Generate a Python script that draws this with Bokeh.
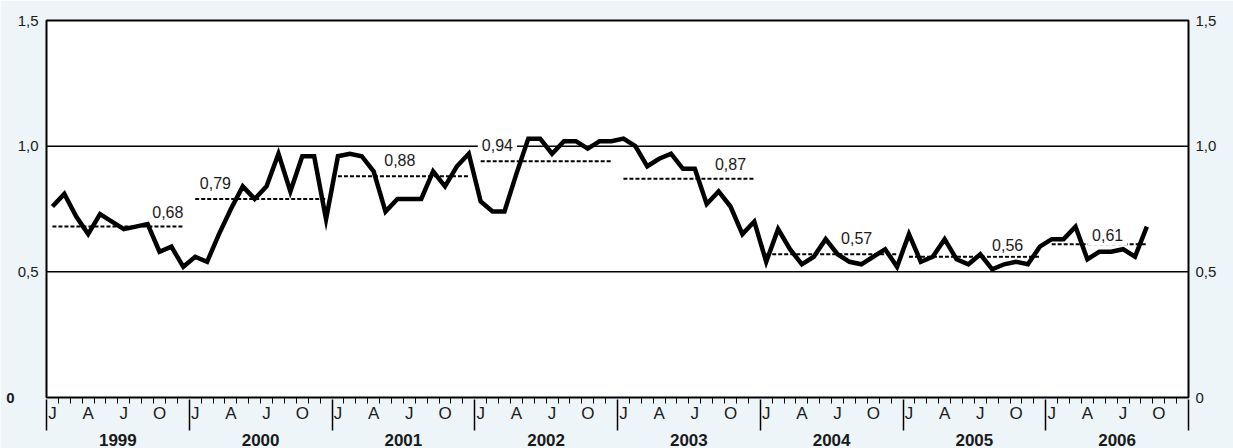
from bokeh.plotting import figure
from bokeh.models import FixedTicker, LinearAxis, Range1d, Label, ColumnDataSource
from bokeh.embed import file_html
from bokeh.resources import INLINE

# ---------------- data ----------------
years = ["1999", "2000", "2001", "2002", "2003", "2004", "2005", "2006"]
v1999 = [0.76, 0.81, 0.72, 0.65, 0.73, 0.70, 0.67, 0.68, 0.69, 0.58, 0.60, 0.52]
v2000 = [0.56, 0.54, 0.65, 0.75, 0.84, 0.79, 0.84, 0.97, 0.82, 0.96, 0.96, 0.71]
v2001 = [0.96, 0.97, 0.96, 0.90, 0.74, 0.79, 0.79, 0.79, 0.90, 0.84, 0.92, 0.97]
v2002 = [0.78, 0.74, 0.74, 0.89, 1.03, 1.03, 0.97, 1.02, 1.02, 0.99, 1.02, 1.02]
v2003 = [1.03, 1.00, 0.92, 0.95, 0.97, 0.91, 0.91, 0.77, 0.82, 0.76, 0.65, 0.70]
v2004 = [0.54, 0.67, 0.59, 0.53, 0.56, 0.63, 0.57, 0.54, 0.53, 0.56, 0.59, 0.52]
v2005 = [0.65, 0.54, 0.56, 0.63, 0.55, 0.53, 0.57, 0.51, 0.53, 0.54, 0.53, 0.60]
v2006 = [0.63, 0.63, 0.68, 0.55, 0.58, 0.58, 0.59, 0.56, 0.68]
yearly_values = [v1999, v2000, v2001, v2002, v2003, v2004, v2005, v2006]

annual_avg = [0.68, 0.79, 0.88, 0.94, 0.87, 0.57, 0.56, 0.61]
annual_avg_labels = ["0,68", "0,79", "0,88", "0,94", "0,87", "0,57", "0,56", "0,61"]

month_letters = ["J", "A", "J", "O"]
y_ticks = [0, 0.5, 1.0, 1.5]
y_tick_labels = ["0", "0,5", "1,0", "1,5"]

# label placement (layout only): month position within year, lift above line
label_month_pos = [9.7, 1.7, 5.2, 1.4, 9.0, 7.6, 8.3, 4.7]
label_lift = [0.060, 0.062, 0.064, 0.064, 0.060, 0.064, 0.045, 0.035]

# ---------------- build ----------------
BG = "#edf5f9"
FONT = "Liberation Sans"
TXT = "#1a1a1a"
n_years = len(years)
n_months = 12 * n_years

xs, ys = [], []
for yi, vals in enumerate(yearly_values):
    for mi, v in enumerate(vals):
        xs.append(yi * 12 + mi + 0.5)
        ys.append(v)
src = ColumnDataSource(dict(x=xs, y=ys))

p = figure(width=1233, height=448, output_backend="svg", toolbar_location=None,
           x_range=Range1d(0, n_months), y_range=Range1d(0, 1.5),
           x_axis_location=None, y_axis_location=None,
           min_border_left=46, min_border_right=45, min_border_top=20, min_border_bottom=51)
p.background_fill_color = "white"
p.border_fill_color = BG
p.outline_line_color = "black"
p.outline_line_width = 2
p.xgrid.visible = False
p.ygrid.visible = False

# horizontal reference lines at 0.5 and 1.0
for yv in y_ticks[1:3]:
    p.line([0, n_months], [yv, yv], line_color="black", line_width=1.5)

# annual averages (dotted)
for yi, (avg, vals) in enumerate(zip(annual_avg, yearly_values)):
    x0 = yi * 12 + 0.5
    x1 = yi * 12 + len(vals) - 0.5
    p.line([x0, x1], [avg, avg], line_color="black", line_width=2, line_dash="4 2")

# main series
p.line("x", "y", source=src, line_color="black", line_width=4.5, line_join="miter")

# average labels
for yi, (avg, txt) in enumerate(zip(annual_avg, annual_avg_labels)):
    lab = Label(x=yi * 12 + label_month_pos[yi] + 0.5, y=avg + label_lift[yi], text=txt,
                text_align="center", text_baseline="middle",
                text_font=FONT, text_font_size="16px", text_color=TXT,
                background_fill_color="white", padding=4)
    p.add_layout(lab)


def style_y(ax, standoff, size="15px", bold=False):
    ax.axis_line_color = None
    ax.major_tick_line_color = None
    ax.major_tick_in = 0
    ax.major_tick_out = 0
    ax.minor_tick_line_color = None
    ax.major_label_standoff = standoff
    ax.major_label_text_font = FONT
    ax.major_label_text_font_size = size
    ax.major_label_text_color = TXT
    if bold:
        ax.major_label_text_font_style = "bold"


# left: inner axis for 0,5 .. 1,5 ; outer axis for bold 0
ax_l = LinearAxis(ticker=FixedTicker(ticks=y_ticks[1:], minor_ticks=[]))
ax_l.major_label_overrides = {t: l for t, l in zip(y_ticks[1:], y_tick_labels[1:])}
style_y(ax_l, 8)
p.add_layout(ax_l, "left")
ax_l0 = LinearAxis(ticker=FixedTicker(ticks=y_ticks[:1], minor_ticks=[]))
ax_l0.major_label_overrides = {y_ticks[0]: y_tick_labels[0]}
style_y(ax_l0, 0, bold=True)
p.add_layout(ax_l0, "left")

# right axis
ax_r = LinearAxis(ticker=FixedTicker(ticks=y_ticks, minor_ticks=[]))
ax_r.major_label_overrides = {t: l for t, l in zip(y_ticks, y_tick_labels)}
style_y(ax_r, 7)
p.add_layout(ax_r, "right")

# month axis (J A J O)
month_centers = []
month_over = {}
for yi in range(n_years):
    for q in range(4):
        c = yi * 12 + q * 3 + 0.5
        month_centers.append(c)
        month_over[c] = month_letters[q]
month_bounds = [m for m in range(n_months + 1) if m % 12 != 0]
ax_m = LinearAxis(ticker=FixedTicker(ticks=month_centers, minor_ticks=month_bounds))
ax_m.major_label_overrides = month_over
ax_m.axis_line_color = None
ax_m.major_tick_line_color = None
ax_m.major_tick_in = 0
ax_m.major_tick_out = 6
ax_m.minor_tick_in = 0
ax_m.minor_tick_out = 6
ax_m.minor_tick_line_color = "black"
ax_m.minor_tick_line_width = 1
ax_m.major_label_standoff = 0
ax_m.major_label_text_font = FONT
ax_m.major_label_text_font_size = "17px"
ax_m.major_label_text_color = TXT
p.add_layout(ax_m, "below")

# year axis
year_centers = [yi * 12 + 6 for yi in range(n_years)]
year_bounds = [yi * 12 for yi in range(n_years + 1)]
ax_y = LinearAxis(ticker=FixedTicker(ticks=year_centers, minor_ticks=year_bounds))
ax_y.major_label_overrides = {c: y for c, y in zip(year_centers, years)}
ax_y.axis_line_color = None
ax_y.major_tick_line_color = None
ax_y.major_tick_in = 0
ax_y.major_tick_out = 0
ax_y.minor_tick_line_color = "black"
ax_y.minor_tick_line_width = 1.5
ax_y.minor_tick_in = 26
ax_y.minor_tick_out = 5
ax_y.major_label_standoff = 3
ax_y.major_label_text_font = FONT
ax_y.major_label_text_font_size = "17px"
ax_y.major_label_text_font_style = "bold"
ax_y.major_label_text_color = TXT
p.add_layout(ax_y, "below")

html = file_html(p, INLINE)
html = html.replace("<body>", '<body style="background-color:%s;">' % BG, 1)
open("out.html", "w").write(html)
